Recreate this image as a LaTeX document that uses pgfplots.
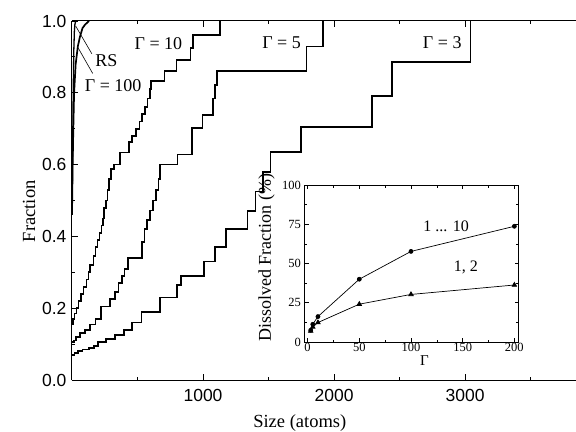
\documentclass[border=0pt]{standalone}
\usepackage{fontspec}
\setmainfont{Liberation Serif}
\newfontfamily\hel{Liberation Sans}
\usepackage{pgfplots}
\pgfplotsset{compat=1.18}
\begin{document}
\begin{tikzpicture}[x=1bp,y=1bp]
\begin{axis}[
  at={(0,0)}, anchor=south west,
  width=504bp, height=359bp, scale only axis,
  xmin=0, xmax=3847, ymin=0, ymax=1,
  axis y line*=left,
  axis line style={line width=1bp},
  clip=false,
  xtick={1000,2000,3000}, minor xtick={500,1500,2500,3500},
  ytick={0,0.2,0.4,0.6,0.8,1}, minor ytick={0.1,0.3,0.5,0.7,0.9},
  tick align=inside,
  major tick length=6bp, minor tick length=3.5bp,
  every tick/.style={black, line width=0.9bp},
  /pgf/number format/assume math mode=true,
  xticklabel style={font=\hel\fontsize{17.5bp}{17.5bp}\selectfont, yshift=-6bp, /pgf/number format/1000 sep={}},
  yticklabel style={font=\hel\fontsize{17.5bp}{17.5bp}\selectfont, xshift=-2bp, /pgf/number format/.cd, fixed, fixed zerofill, precision=1},
  xlabel={Size (atoms)},
  xlabel style={at={(axis description cs:0.452,-0.1198)}, anchor=center, font=\fontsize{18.5bp}{18.5bp}\selectfont},
  ylabel={Fraction},
  ylabel style={at={(axis description cs:-0.0853,0.47)}, anchor=center, font=\fontsize{18.5bp}{18.5bp}\selectfont},
]
% Gamma = 3
\addplot[black, line width=1.7bp, const plot] coordinates {
(0,0.07)(20,0.075)(45,0.08)(80,0.085)(130,0.09)(170,0.095)(200,0.105)(260,0.115)(330,0.125)(395,0.14)(460,0.16)(530,0.19)(670,0.23)(800,0.265)(830,0.29)(1010,0.33)(1090,0.37)(1175,0.42)(1340,0.47)(1400,0.525)(1460,0.58)(1516,0.636)(1748,0.705)(2292,0.792)(2443,0.886)(3042,1.0)};
% Gamma = 5
\addplot[black, line width=1.7bp, const plot] coordinates {
(0,0.105)(15,0.11)(30,0.12)(60,0.13)(100,0.14)(140,0.155)(180,0.17)(222,0.205)(292,0.225)(326,0.245)(356,0.27)(380,0.29)(400,0.31)(430,0.34)(535,0.385)(553,0.42)(575,0.445)(593,0.472)(620,0.50)(640,0.53)(660,0.56)(672,0.60)(805,0.628)(914,0.702)(995,0.739)(1077,0.784)(1090,0.821)(1105,0.861)(1790,0.929)(1917,1.0)};
% Gamma = 10
\addplot[black, line width=1.7bp, const plot] coordinates {
(0,0.155)(10,0.17)(20,0.185)(35,0.20)(50,0.22)(70,0.24)(88,0.26)(110,0.28)(125,0.30)(140,0.32)(165,0.345)(180,0.37)(195,0.39)(210,0.41)(225,0.43)(235,0.45)(245,0.48)(260,0.50)(270,0.53)(285,0.56)(298,0.588)(321,0.60)(367,0.634)(437,0.662)(460,0.68)(490,0.70)(515,0.72)(535,0.74)(555,0.76)(577,0.784)(595,0.81)(605,0.832)(705,0.861)(798,0.891)(905,0.924)(925,0.961)(1130,1.0)};
% RS
\addplot[black, line width=1.3bp] coordinates {
(0,0.46)(4,0.6)(8,0.75)(11,0.85)(14,0.92)(18,0.97)(22,0.99)(28,1.0)};
% Gamma = 100
\addplot[black, line width=1.7bp] coordinates {
(0,0.46)(5,0.6)(10,0.7)(16,0.8)(28,0.88)(45,0.93)(60,0.955)(80,0.98)(100,0.99)(130,1.0)};
\draw[black, line width=0.6bp] (axis cs:151,0.909) -- (axis cs:28,0.986);
\draw[black, line width=0.6bp] (axis cs:158,0.854) -- (axis cs:47,0.925);
\node[font=\fontsize{18bp}{18bp}\selectfont] at (axis cs:263,0.891) {RS};
\node[font=\fontsize{18bp}{18bp}\selectfont] at (axis cs:314,0.821) {Γ = 100};
\node[font=\fontsize{18bp}{18bp}\selectfont] at (axis cs:660,0.9375) {Γ = 10};
\node[font=\fontsize{18bp}{18bp}\selectfont] at (axis cs:1600,0.94) {Γ = 5};
\node[font=\fontsize{18bp}{18bp}\selectfont] at (axis cs:2826,0.94) {Γ = 3};
\end{axis}
\begin{axis}[
  at={(232.5bp,38bp)}, anchor=south west,
  width=214bp, height=157bp, scale only axis,
  xmin=-3, xmax=204, ymin=0, ymax=100,
  axis line style={line width=0.7bp},
  xtick={0,50,100,150,200}, minor xtick={25,75,125,175},
  ytick={0,25,50,75,100}, minor ytick={12.5,37.5,62.5,87.5},
  tick align=inside,
  major tick length=4bp, minor tick length=2.5bp,
  every tick/.style={black, line width=0.6bp},
  /pgf/number format/assume math mode=true,
  ticklabel style={font=\fontsize{12.5bp}{12.5bp}\selectfont},
  xticklabel style={yshift=2.5bp},
  xlabel={Γ},
  xlabel style={at={(axis description cs:0.56,-0.118)}, anchor=center, font=\fontsize{15bp}{15bp}\selectfont},
  ylabel={Dissolved Fraction (\%)},
  ylabel style={at={(axis description cs:-0.1776,0.536)}, anchor=center, font=\fontsize{18bp}{18bp}\selectfont},
]
\addplot[black, line width=0.7bp, mark=*, mark size=2bp] coordinates {
(3,7.5)(5,11.3)(10,16.2)(50,40)(100,57.7)(200,73.7)};
\addplot[black, line width=0.7bp, mark=triangle*, mark size=2.6bp] coordinates {
(3,7)(5,9.6)(10,12.4)(50,24.1)(100,30.3)(200,36.3)};
\node[font=\fontsize{16bp}{16bp}\selectfont] at (axis cs:134,73.5) {1 ... 10};
\node[font=\fontsize{16bp}{16bp}\selectfont] at (axis cs:153,47.5) {1, 2};
\end{axis}
\pgfresetboundingbox
\path[use as bounding box] (-72,-51) rectangle (504,380);
\end{tikzpicture}
\end{document}
